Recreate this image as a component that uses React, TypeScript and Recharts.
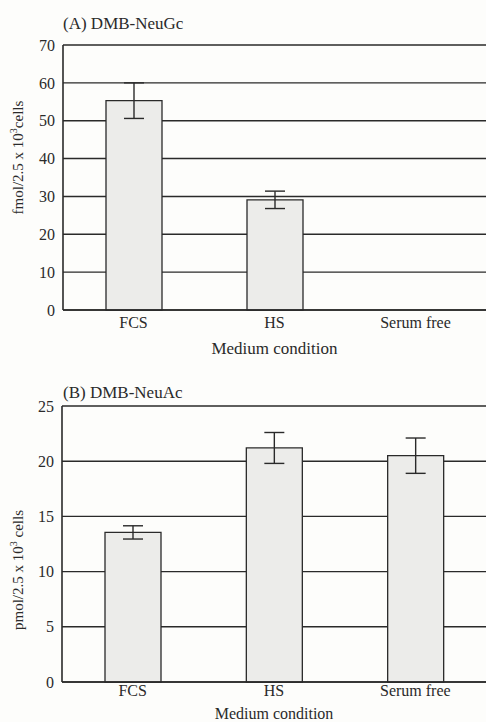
import React from "react";
import { Bar, BarChart, CartesianGrid, ErrorBar, XAxis, YAxis, Label } from "recharts";

const categories = ["FCS", "HS", "Serum free"];

const neuGcValues = [55.3, 29.1, 0];
const neuGcErrors = [4.7, 2.3, 0];
const neuGcTicks = [0, 10, 20, 30, 40, 50, 60, 70];

const neuAcValues = [13.55, 21.2, 20.5];
const neuAcErrors = [0.6, 1.4, 1.6];
const neuAcTicks = [0, 5, 10, 15, 20, 25];

const FONT = "'Liberation Serif', 'DejaVu Serif', serif";
const INK = "#2a2a2a";

// small tick marks sit between categories
const boundaries = categories.slice(1).map((_, i) => i + 1);

type PanelProps = {
  values: number[];
  errors: number[];
  ticks: number[];
  yLabel: React.ReactNode;
  height: number;
  top: number;
  bottomAxis: number;
  yAxisWidth: number;
  labelShift: number;
  tickGap: number;
  tickSize: number;
  titleOffset: number;
  titleSize: number;
};

function Panel(p: PanelProps) {
  const data = categories.map((name, i) => ({
    name,
    value: p.values[i],
    err: p.errors[i] > 0 ? p.errors[i] : null,
  }));
  const max = p.ticks[p.ticks.length - 1];
  return (
    <BarChart
      width={486}
      height={p.height}
      data={data}
      margin={{ top: p.top, right: 0, bottom: 0, left: 0 }}
      style={{ fontFamily: FONT }}
    >
      <XAxis
        xAxisId="bnd"
        type="number"
        domain={[0, categories.length]}
        ticks={boundaries}
        mirror
        height={0}
        axisLine={false}
        tick={() => <g />}
        tickSize={5}
        tickLine={{ stroke: INK, strokeWidth: 1.4 }}
      />
      <XAxis
        xAxisId="cat"
        dataKey="name"
        height={p.bottomAxis}
        axisLine={{ stroke: INK, strokeWidth: 1.6 }}
        tickLine={false}
        tickSize={p.tickSize}
        tickMargin={p.tickGap}
        tick={{ fill: INK, fontSize: 16, fontFamily: FONT }}
        interval={0}
      >
        <Label
          value="Medium condition"
          position="insideBottom"
          offset={p.titleOffset}
          style={{ fill: INK, fontSize: p.titleSize, fontFamily: FONT }}
        />
      </XAxis>
      <CartesianGrid xAxisId="cat" horizontal vertical={false} stroke={INK} strokeWidth={1.4} strokeOpacity={1} />
      <YAxis
        width={p.yAxisWidth}
        domain={[0, max]}
        ticks={p.ticks}
        interval={0}
        axisLine={{ stroke: INK, strokeWidth: 1.6 }}
        tickLine={false}
        tick={{ fill: INK, fontSize: 16, fontFamily: FONT }}
      >
        <Label
          content={(props: any) => {
            const vb = props.viewBox || {};
            const cx = 18;
            const cy = vb.y + vb.height / 2 + p.labelShift;
            return (
              <text
                x={cx}
                y={cy}
                transform={`rotate(-90 ${cx} ${cy})`}
                textAnchor="middle"
                dominantBaseline="central"
                fill={INK}
                fontSize={15}
                fontFamily={FONT}
              >
                {p.yLabel}
              </text>
            );
          }}
        />
      </YAxis>
      <Bar
        xAxisId="cat"
        dataKey="value"
        fill="#ececea"
        stroke={INK}
        strokeWidth={1.3}
        barSize={56}
        isAnimationActive={false}
      >
        <ErrorBar dataKey="err" width={10} stroke={INK} strokeWidth={1.4} />
      </Bar>
    </BarChart>
  );
}

export default function App() {
  return (
    <div
      style={{
        position: "absolute",
        left: 0,
        top: 0,
        width: 486,
        height: 722,
        background: "#fdfdfb",
        fontFamily: FONT,
        color: INK,
      }}
    >
      <div style={{ position: "absolute", left: 63, top: 14, fontSize: 17 }}>(A) DMB-NeuGc</div>
      <div style={{ position: "absolute", left: 0, top: 0 }}>
        <Panel
          values={neuGcValues}
          errors={neuGcErrors}
          ticks={neuGcTicks}
          yLabel={
            <>
              fmol/2.5 x 10<tspan dy={-5} fontSize={10}>3</tspan>
              <tspan dy={5}>cells</tspan>
            </>
          }
          height={360}
          top={45}
          bottomAxis={50}
          yAxisWidth={63}
          labelShift={-20}
          tickGap={1}
          tickSize={6}
          titleOffset={6}
          titleSize={17}
        />
      </div>
      <div style={{ position: "absolute", left: 63, top: 383, fontSize: 17 }}>(B) DMB-NeuAc</div>
      <div style={{ position: "absolute", left: 0, top: 360 }}>
        <Panel
          values={neuAcValues}
          errors={neuAcErrors}
          ticks={neuAcTicks}
          yLabel={
            <>
              pmol/2.5 x 10<tspan dy={-5} fontSize={10}>3</tspan>
              <tspan dy={5}> cells</tspan>
            </>
          }
          height={362}
          top={46}
          bottomAxis={40}
          yAxisWidth={62}
          labelShift={26}
          tickGap={0}
          tickSize={3}
          titleOffset={3}
          titleSize={16}
        />
      </div>
    </div>
  );
}
